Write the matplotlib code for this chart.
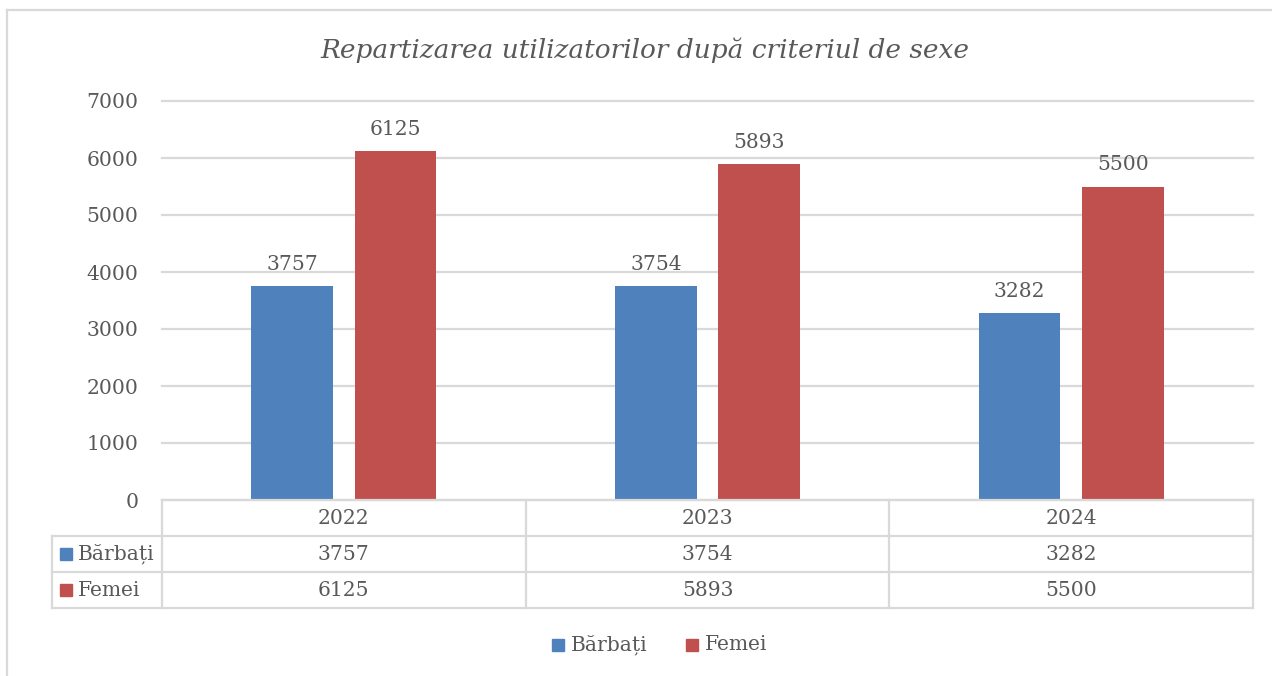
import matplotlib
matplotlib.use("Agg")
import matplotlib.pyplot as plt
from matplotlib.transforms import blended_transform_factory
from matplotlib.patches import Rectangle
from matplotlib.lines import Line2D

# ---- data ----
years = ["2022", "2023", "2024"]
series_names = ["Bărbați", "Femei"]
barbati = [3757, 3754, 3282]
femei = [6125, 5893, 5500]
yticks = [0, 1000, 2000, 3000, 4000, 5000, 6000, 7000]
title = "Repartizarea utilizatorilor după criteriul de sexe"

colors = ["#4F81BD", "#C0504D"]
txt = "#595959"
grid = "#D9D9D9"
W, H = 1272, 676
FS = 14.6

plt.rcParams["font.family"] = ["DejaVu Serif"]

fig = plt.figure(figsize=(W / 100, H / 100), dpi=100)

def fx(px):
    return px / W

def fy(py):
    return 1 - py / H

L, R, T, B = 162, 1253, 101, 500
ax = fig.add_axes([fx(L), fy(B), fx(R) - fx(L), fy(T) - fy(B)])

x = list(range(len(years)))
bw = 0.225
off = 0.142
series = [barbati, femei]
for i, (vals, c) in enumerate(zip(series, colors)):
    pos = [xi + (-off if i == 0 else off) for xi in x]
    ax.bar(pos, vals, width=bw, color=c, zorder=3)
    for p, v in zip(pos, vals):
        ax.annotate(str(v), (p, v), xytext=(0, 12), textcoords="offset pixels",
                    ha="center", va="bottom", fontsize=FS, color=txt)

ax.set_xlim(-0.5, len(years) - 0.5)
ax.set_ylim(0, 7000)
ax.set_yticks(yticks)
ax.set_yticklabels([str(t) for t in yticks], fontsize=FS, color=txt)
ax.tick_params(axis="y", length=0, pad=17)
ax.set_xticks([])
for s in ax.spines.values():
    s.set_visible(False)
ax.yaxis.grid(True, color=grid, linewidth=1.6, zorder=0, clip_on=False)
ax.set_axisbelow(True)

# ---- data table ----
line_kw = dict(color=grid, linewidth=1.6)
def hline(x0, x1, y):
    fig.add_artist(Line2D([fx(x0), fx(x1)], [fy(y), fy(y)], transform=fig.transFigure, **line_kw))
def vline(x0, y0, y1):
    fig.add_artist(Line2D([fx(x0), fx(x0)], [fy(y0), fy(y1)], transform=fig.transFigure, **line_kw))

rows = [500, 536, 572, 608]
hline(L, R, rows[0])
hline(52, R, rows[1])
hline(52, R, rows[2])
hline(52, R, rows[3])
vline(52, rows[1], rows[3])
ncol = len(years)
for k in range(ncol + 1):
    vline(L + (R - L) * k / ncol, rows[0], rows[3])

bt = blended_transform_factory(ax.transData, fig.transFigure)
for i, yr in enumerate(years):
    fig.text(i, fy((rows[0] + rows[1]) / 2), yr, transform=bt, ha="center", va="center",
             fontsize=FS, color=txt)
    for r, vals in enumerate(series):
        fig.text(i, fy((rows[r + 1] + rows[r + 2]) / 2), str(vals[i]), transform=bt,
                 ha="center", va="center", fontsize=FS, color=txt)

for r, (name, c) in enumerate(zip(series_names, colors)):
    yc = (rows[r + 1] + rows[r + 2]) / 2
    fig.add_artist(Rectangle((fx(60), fy(yc + 6)), fx(12), 12 / H, transform=fig.transFigure,
                             color=c))
    fig.text(fx(78), fy(yc), name, ha="left", va="center", fontsize=FS, color=txt)

# ---- legend ----
leg_y = 645
for (name, c, sx) in zip(series_names, colors, [552, 686]):
    fig.add_artist(Rectangle((fx(sx), fy(leg_y + 6)), fx(12), 12 / H, transform=fig.transFigure,
                             color=c))
    fig.text(fx(sx + 19), fy(leg_y), name, ha="left", va="center", fontsize=FS, color=txt)

# ---- title ----
fig.text(fx(645), fy(50), title, ha="center", va="center", fontsize=19, style="italic",
         color=txt)

# ---- chart border ----
fig.add_artist(Line2D([fx(7), fx(7)], [fy(10), 0], transform=fig.transFigure, color=grid, linewidth=1.6))
fig.add_artist(Line2D([fx(7), 1], [fy(10), fy(10)], transform=fig.transFigure, color=grid, linewidth=1.6))

fig.savefig("out.png", dpi=100, facecolor="white")
